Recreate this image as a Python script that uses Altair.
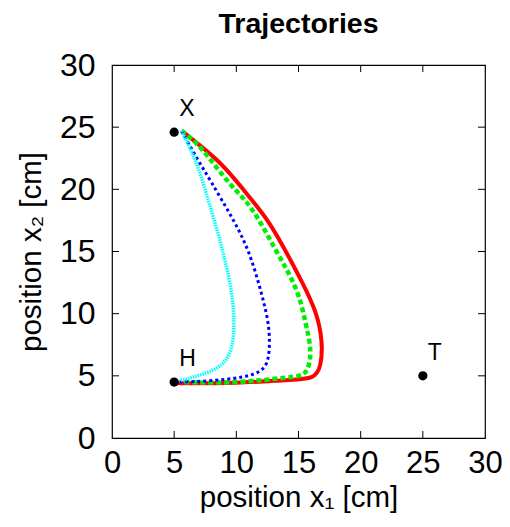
import altair as alt
import pandas as pd

# --- data ---
red_x = [5.6, 8.6, 10.75, 12.6, 14.2, 15.25, 16.35, 16.85, 16.75, 16.05, 13.95, 9.95, 5.95, 5.15]
red_y = [24.7, 22.2, 19.75, 17.35, 14.6, 12.6, 10.15, 7.75, 5.9, 4.9, 4.65, 4.45, 4.4, 4.45]

green_x = [5.6, 7.2, 9.4, 11.25, 13.15, 14.75, 15.55, 15.95, 15.55, 13.95, 9.95, 5.6]
green_y = [24.7, 23.25, 20.55, 18.4, 15.15, 12.1, 9.35, 6.95, 5.3, 4.85, 4.5, 4.5]

blue_x = [5.6, 6.75, 8.0, 9.6, 11.0, 12.05, 12.6, 12.6, 12.05, 10.45, 7.8, 5.4]
blue_y = [24.7, 22.65, 20.55, 17.8, 14.9, 11.5, 8.85, 6.7, 5.5, 4.9, 4.6, 4.5]

cyan_x = [5.6, 6.75, 7.8, 8.6, 9.0, 9.55, 9.8, 9.6, 8.8, 7.2, 5.4]
cyan_y = [24.7, 22.2, 18.95, 16.2, 14.6, 12.1, 9.35, 7.25, 5.9, 5.1, 4.6]

point_labels = ["X", "H", "T"]
point_x = [5.0, 5.0, 25.0]
point_y = [24.6, 4.5, 5.0]

tick_values = [5, 10, 15, 20, 25]
axis_values = [0, 5, 10, 15, 20, 25, 30]

W, H = 373, 373
FONT = "Liberation Sans"

rows = []
for name, xs, ys in [("red", red_x, red_y), ("green", green_x, green_y),
                     ("blue", blue_x, blue_y), ("cyan", cyan_x, cyan_y)]:
    for i, (a, b) in enumerate(zip(xs, ys)):
        rows.append({"series": name, "x": a, "y": b, "i": i})
curves = pd.DataFrame(rows)
pts = pd.DataFrame({"label": point_labels, "x": point_x, "y": point_y})
ticks = pd.DataFrame({"v": tick_values})

xscale = alt.Scale(domain=[0, 30], nice=False, zero=False)
yscale = alt.Scale(domain=[0, 30], nice=False, zero=False)

xaxis = alt.Axis(values=axis_values, grid=False, ticks=False, domain=False, labelFlush=False,
                 labelFontSize=31, labelFont=FONT, labelColor="black", labelPadding=10,
                 title="position x₁ [cm]", titleFont=FONT, titleFontSize=29.5,
                 titleFontWeight="normal", titleColor="black", titlePadding=5)
yaxis = alt.Axis(values=axis_values, grid=False, ticks=False, domain=False, labelFlush=False,
                 labelFontSize=32, labelFont=FONT, labelColor="black", labelPadding=17,
                 title="position x₂ [cm]", titleFont=FONT, titleFontSize=29.5,
                 titleFontWeight="normal", titleColor="black", titlePadding=13)


def X(field):
    return alt.X(field, scale=xscale, axis=xaxis)


def Y(field):
    return alt.Y(field, scale=yscale, axis=yaxis)


styles = {
    "red": dict(color="#ff0000", strokeWidth=4),
    "green": dict(color="#00ee00", strokeWidth=4.5, strokeDash=[5, 3]),
    "blue": dict(color="#0000ff", strokeWidth=3, strokeDash=[3, 3]),
    "cyan": dict(color="#00ffff", strokeWidth=3.5, strokeDash=[1.5, 1]),
}

base = alt.Chart(curves)
layers = []
for name in ["red", "green", "blue", "cyan"]:
    layers.append(
        base.transform_filter(alt.datum.series == name)
        .mark_line(interpolate="natural", **styles[name])
        .encode(x=X("x:Q"), y=Y("y:Q"), order="i:Q")
    )

tick_base = alt.Chart(ticks)
bottom_ticks = tick_base.mark_rule(color="black", strokeWidth=1).encode(
    x=X("v:Q"), y=alt.value(H), y2=alt.value(H - 7))
top_ticks = tick_base.mark_rule(color="black", strokeWidth=1).encode(
    x=X("v:Q"), y=alt.value(0), y2=alt.value(7))
left_ticks = tick_base.mark_rule(color="black", strokeWidth=1).encode(
    y=Y("v:Q"), x=alt.value(0), x2=alt.value(7))
right_ticks = tick_base.mark_rule(color="black", strokeWidth=1).encode(
    y=Y("v:Q"), x=alt.value(W), x2=alt.value(W - 7))

dots = alt.Chart(pts).mark_circle(color="black", opacity=1, size=85).encode(
    x=X("x:Q"), y=Y("y:Q"))
labels = alt.Chart(pts).mark_text(font=FONT, fontSize=23, color="black", align="left",
                                  baseline="alphabetic", dx=5, dy=-16).encode(
    x=X("x:Q"), y=Y("y:Q"), text="label:N")

chart = alt.layer(
    *layers, bottom_ticks, top_ticks, left_ticks, right_ticks, dots, labels
).properties(
    width=W, height=H,
    title=alt.TitleParams("Trajectories", font=FONT, fontSize=28.5, fontWeight="bold",
                          color="black", anchor="middle", offset=11),
    autosize=alt.AutoSizeParams(type="none"),
    padding={"left": 104, "top": 57, "right": 17, "bottom": 81},
).configure_view(stroke="black", strokeWidth=1.2)

chart.save("out.html", embed_options={"renderer": "svg", "actions": False})
